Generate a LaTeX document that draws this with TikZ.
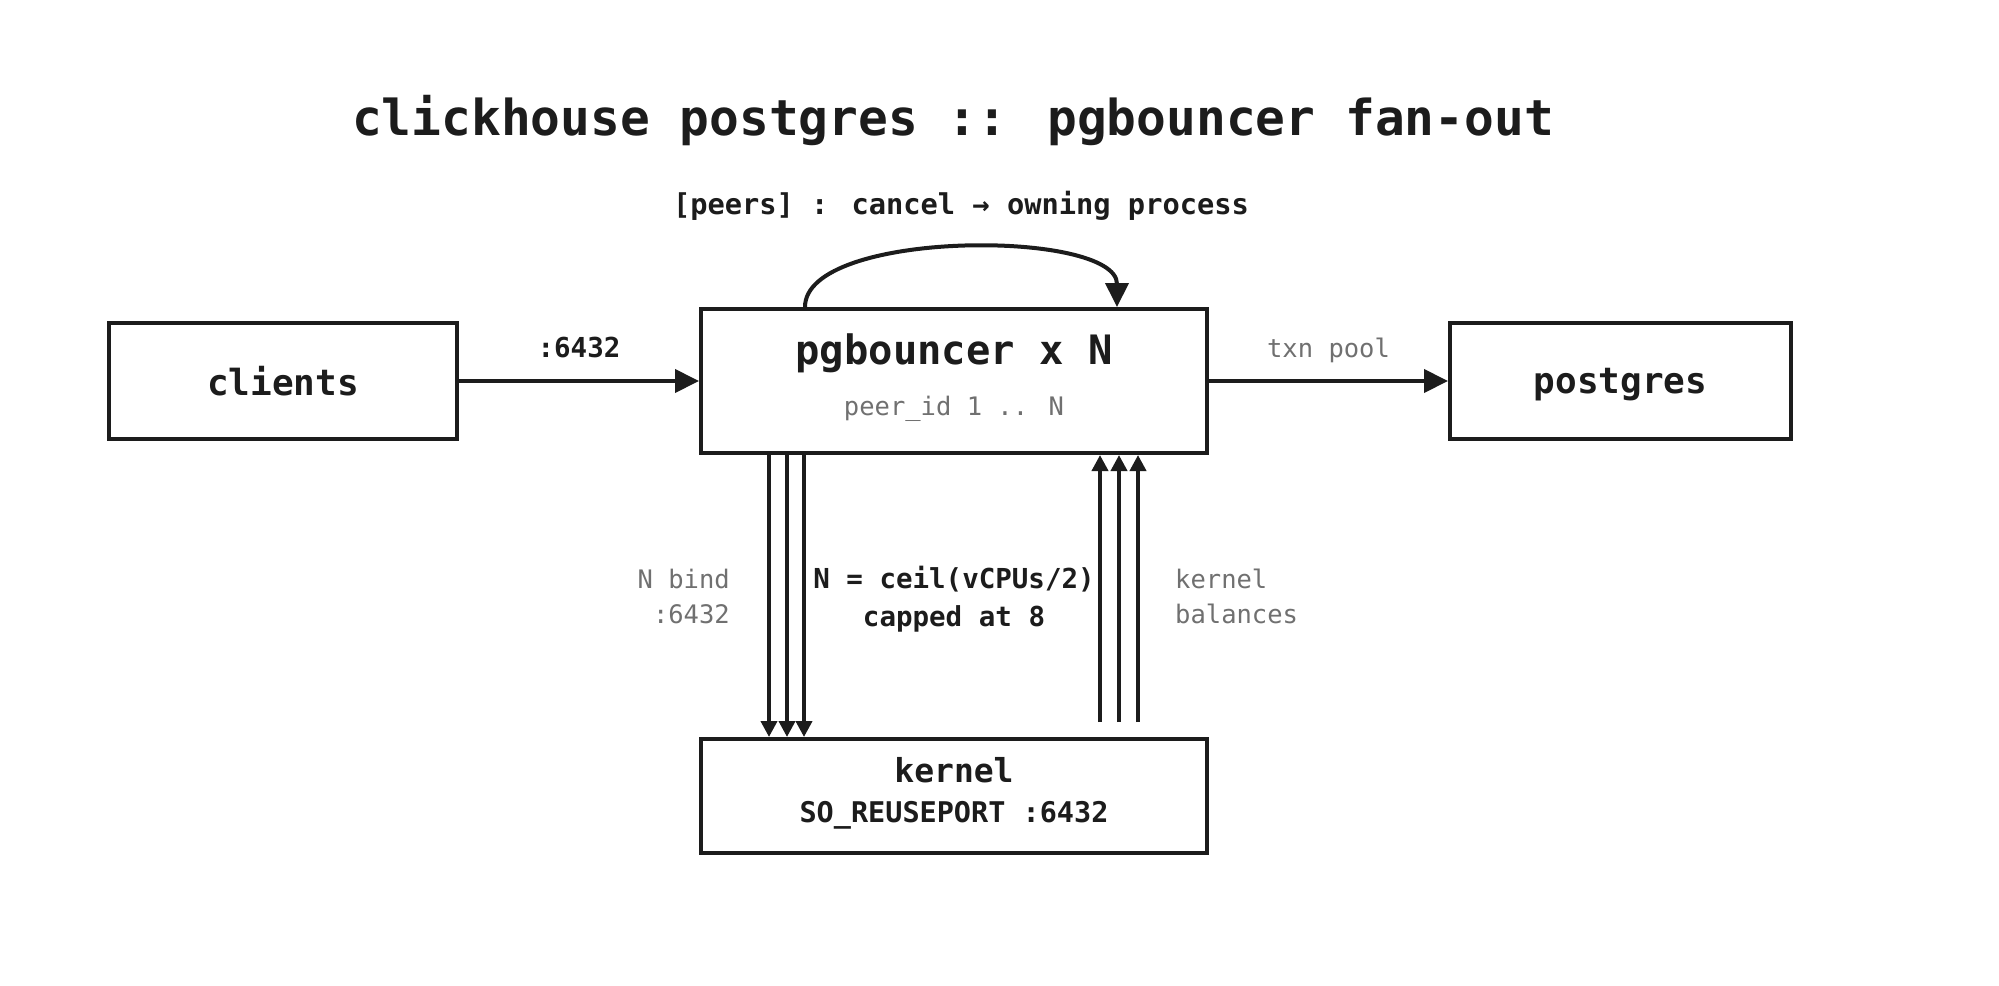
\documentclass[tikz,border=0pt]{standalone}
\usepackage{fontspec}
\setmainfont{DejaVu Sans Mono}
\usetikzlibrary{positioning,calc,arrows.meta}
\definecolor{InkBlack}{RGB}{28,28,28}
\definecolor{LabelGray}{RGB}{112,112,112}
\newcommand{\fsz}[2]{\fontsize{#1pt}{#2pt}\selectfont}
\tikzset{
  sbox/.style={draw=InkBlack,line width=4pt,inner sep=0pt,fill=white,text depth=0pt,
               text=InkBlack,font=\bfseries\fsz{36}{42}},
  wbox/.style={sbox,minimum width=506pt},
  ttl/.style={text=InkBlack,inner sep=0pt,font=\bfseries\fsz{49.5}{56}},
  lblk/.style={text=InkBlack,inner sep=0pt,align=center,font=\bfseries\fsz{27.5}{38}},
  lgry/.style={text=LabelGray,inner sep=0pt,font=\fsz{25.5}{35}},
  arr/.style={-{Triangle[length=24pt,width=23pt]},InkBlack,line width=4pt},
  arrs/.style={-{Triangle[length=16pt,width=16pt]},InkBlack,line width=3.8pt},
}
\begin{document}
\begin{tikzpicture}[x=1pt,y=-1pt,node distance=282pt and 240pt]
  \fill[white] (0,0) rectangle (1999,985);
  \useasboundingbox (0,0) rectangle (1999,985);

  \node[ttl] (title) at (953,121) {clickhouse postgres :: pgbouncer fan-out};
  \node[lblk,font=\bfseries\fsz{28.7}{36}] (peers) at (961,206) {[peers] : cancel → owning process};

  \node[wbox,minimum height=144pt] (pg) at (954,381) {};
  \node[sbox,minimum width=348pt,minimum height=116pt,left=240pt of pg] (clients) {clients};
  \node[sbox,minimum width=341pt,minimum height=116pt,right=239pt of pg] (postgres) {postgres};
  \node[wbox,minimum height=114pt,below=of pg] (kernel) {};

  \node[text=InkBlack,inner sep=0pt,font=\bfseries\fsz{40.5}{48}] (pgname) at ([yshift=28pt]pg.center) {pgbouncer x N};
  \node[lgry] (pgpeer) at ([yshift=-28pt]pg.center) {peer\_id 1 .. N};
  \node[text=InkBlack,inner sep=0pt,font=\bfseries\fsz{33}{40}] (kname) at ([yshift=26pt]kernel.center) {kernel};
  \node[lblk,font=\bfseries\fsz{28.5}{36}] (kport) at ([yshift=-19pt]kernel.center) {SO\_REUSEPORT :6432};

  \draw[arr] (clients) -- node[lblk,above=21pt] {:6432} (pg);
  \draw[arr] (pg) -- node[lgry,above=16pt] {txn pool} (postgres);
  \draw[arr] ([xshift=-149pt]pg.north) .. controls +(0,-78) and +(0,-78) .. ([xshift=163pt]pg.north);

  \foreach \dx in {-185,-167,-150}
    \draw[arrs] ([xshift=\dx pt]pg.south) -- ([xshift=\dx pt]kernel.north);
  \foreach \dx in {146,165,184}
    \draw[arrs] ([xshift=\dx pt,yshift=15pt]kernel.north) -- ([xshift=\dx pt]pg.south);

  \coordinate (mid) at ($(pg.south)!0.5!(kernel.north)$);
  \node[lblk,yshift=-3pt] (ncalc) at (mid) {N = ceil(vCPUs/2)\\capped at 8};
  \node[lgry,align=right,left=224pt of mid] (nbind) {N bind\\:6432};
  \node[lgry,align=left,right=221pt of mid] (kbal) {kernel\\balances};
\end{tikzpicture}
\end{document}
